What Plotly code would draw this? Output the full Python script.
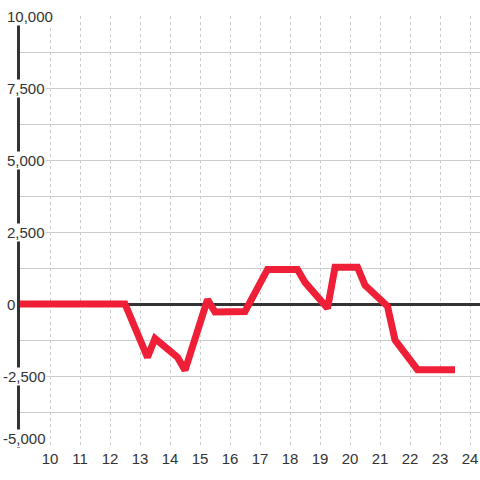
import plotly.graph_objects as go

# Series
hours = [9, 12.5, 13.25, 13.5, 14.25, 14.5, 15.25, 15.5, 16.5, 17.25, 18.25,
         18.5, 19.25, 19.5, 20.25, 20.5, 21.25, 21.5, 22.25, 23.5]
values = [0, 0, -1850, -1200, -1850, -2300, 150, -280, -260, 1200, 1200,
          750, -150, 1280, 1280, 650, -80, -1250, -2280, -2280]

x_ticks = list(range(10, 25))
y_ticks = [10000, 7500, 5000, 2500, 0, -2500, -5000]
y_labels = ["10,000", "7,500", "5,000", "2,500", "0", "-2,500", "-5,000"]

LINE_RED = "#EE1F37"
TEXT = "#333333"
GRID = "#CCCCCC"
FONT = "Liberation Sans, Arial, sans-serif"

fig = go.Figure()
fig.add_trace(go.Scatter(
    x=hours, y=values,
    mode="lines",
    line=dict(color=LINE_RED, width=7),
    hoverinfo="skip",
))

# y tick labels as annotations with white background (they break the axis line)
for v, lab in zip(y_ticks, y_labels):
    fig.add_annotation(
        x=-0.030, xref="paper", xanchor="left",
        xshift=-4 if v < 0 else 0,
        y=v, yref="y", yanchor="bottom" if v == min(y_ticks) else "middle",
        text=lab, showarrow=False,
        bgcolor="white", borderpad=0,
        font=dict(family=FONT, size=15, color=TEXT),
    )

fig.update_layout(
    width=480, height=480,
    margin=dict(l=20, r=0, t=16, b=32),
    plot_bgcolor="white",
    paper_bgcolor="white",
    showlegend=False,
    font=dict(family=FONT, size=15, color=TEXT),
    xaxis=dict(
        range=[9, 24.333],
        tickvals=x_ticks,
        showgrid=True, gridcolor=GRID, griddash="dot", gridwidth=1,
        zeroline=False, showline=False, ticks="",
        tickfont=dict(family=FONT, size=15, color=TEXT),
    ),
    yaxis=dict(
        range=[-5000, 10000],
        dtick=1250, tick0=0,
        showticklabels=False,
        showgrid=True, gridcolor=GRID, gridwidth=1,
        zeroline=True, zerolinecolor=TEXT, zerolinewidth=3,
        showline=True, linecolor=TEXT, linewidth=3, ticks="",
    ),
)

fig.write_html("out.html", config={"displayModeBar": False},
               post_script="document.body.style.margin='0';")
